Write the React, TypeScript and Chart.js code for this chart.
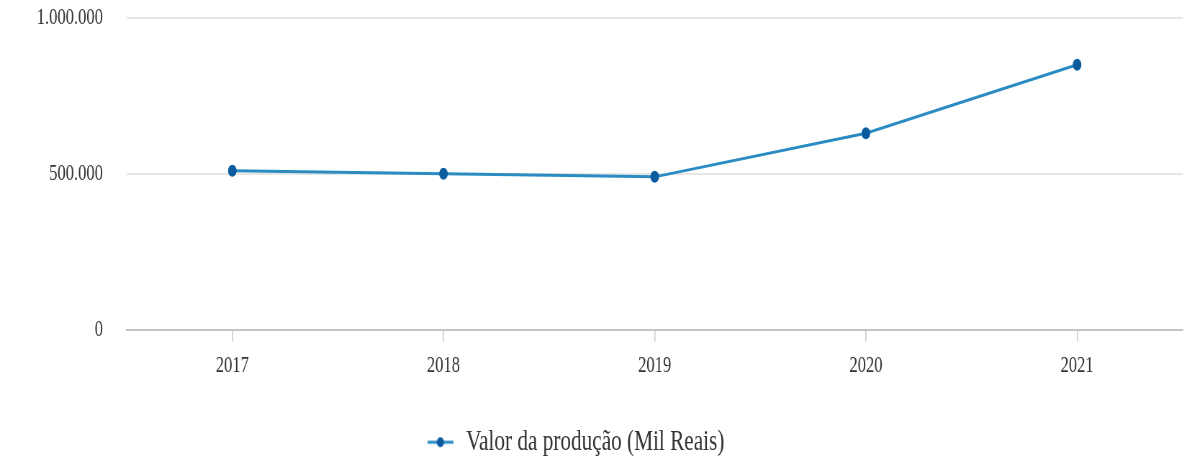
import React, { useEffect, useRef } from "react";
import { Chart, registerables } from "chart.js";

Chart.register(...registerables);

// ---- data ----
const categories: string[] = ["2017", "2018", "2019", "2020", "2021"];
const valorProducao: number[] = [510000, 500000, 490000, 630000, 850000];
const yTickValues: number[] = [0, 500000, 1000000];
const seriesLabel = "Valor da produção (Mil Reais)";

// ---- styles ----
const LINE_COLOR = "#2a8cc3";
const POINT_COLOR = "#0b5c9e";
const TEXT_COLOR = "#333333";
const FONT_FAMILY = "'Liberation Serif', 'Times New Roman', serif";

// drawing is done on a wider canvas that the browser squeezes horizontally
const INNER_W = 1649;
const INNER_H = 467;
const CANVAS_CSS_W = 1187;
const SHOWN_W = 1185;

function formatThousands(v: number): string {
  return String(Math.round(v)).replace(/\B(?=(\d{3})+(?!\d))/g, ".");
}

export default function App() {
  const ref = useRef<HTMLCanvasElement>(null);

  useEffect(() => {
    if (!ref.current) return;

    const marker = document.createElement("canvas");
    marker.width = 36;
    marker.height = 12;
    const mctx = marker.getContext("2d")!;
    mctx.strokeStyle = LINE_COLOR;
    mctx.lineWidth = 3;
    mctx.beginPath();
    mctx.moveTo(0, 6);
    mctx.lineTo(36, 6);
    mctx.stroke();
    mctx.fillStyle = POINT_COLOR;
    mctx.beginPath();
    mctx.arc(18, 6, 5, 0, Math.PI * 2);
    mctx.fill();

    const defaultGen = (Chart.defaults.plugins.legend.labels as any).generateLabels;

    const chart = new Chart(ref.current, {
      type: "line",
      data: {
        labels: categories,
        datasets: [
          {
            label: seriesLabel,
            data: valorProducao,
            borderColor: LINE_COLOR,
            backgroundColor: POINT_COLOR,
            pointBackgroundColor: POINT_COLOR,
            pointBorderColor: POINT_COLOR,
            pointBorderWidth: 0,
            pointRadius: 6,
            borderWidth: 3,
            tension: 0,
            fill: false,
          },
        ],
      },
      options: {
        animation: false,
        responsive: false,
        devicePixelRatio: 1,
        layout: { padding: { top: 18, left: 0, right: 0, bottom: 0 } },
        plugins: {
          tooltip: { enabled: false },
          legend: {
            position: "bottom",
            labels: {
              usePointStyle: true,
              pointStyleWidth: 42,
              padding: 10,
              color: TEXT_COLOR,
              font: { family: FONT_FAMILY, size: 29.5 },
              generateLabels: (c: any) =>
                defaultGen(c).map((it: any) => ({ ...it, pointStyle: marker })),
            },
          },
        },
        scales: {
          x: {
            offset: true,
            grid: {
              drawOnChartArea: false,
              drawTicks: true,
              tickLength: 12,
              color: "#c8c8c8",
              lineWidth: 1.5,
              offset: false,
            },
            border: { display: true, color: "#c4c4c4", width: 2 },
            ticks: {
              padding: 11,
              color: TEXT_COLOR,
              font: { family: FONT_FAMILY, size: 23 },
            },
            afterFit: (s: any) => {
              s.height = 88;
            },
          },
          y: {
            min: 0,
            max: 1000000,
            afterBuildTicks: (s: any) => {
              s.ticks = yTickValues.map((v) => ({ value: v }));
            },
            grid: {
              drawTicks: true,
              tickLength: 30,
              tickColor: "rgba(0,0,0,0)",
              lineWidth: 2,
              color: (ctx: any) => (ctx.tick && ctx.tick.value === 0 ? "#c4c4c4" : "#e6e6e6"),
            },
            border: { display: false },
            ticks: {
              padding: 3,
              color: TEXT_COLOR,
              font: { family: FONT_FAMILY, size: 23 },
              callback: (v: any) => formatThousands(Number(v)),
            },
            afterFit: (s: any) => {
              s.width = 176;
            },
          },
        },
      },
      plugins: [
        {
          id: "legendShift",
          afterLayout(c: any) {
            if (c.legend) c.legend.right -= 52;
          },
        },
      ],
    } as any);

    return () => chart.destroy();
  }, []);

  return (
    <div style={{ width: SHOWN_W, height: 461, overflow: "hidden", position: "relative", background: "#fff" }}>
      <style>{`body{margin:0;overflow:hidden;background:#fff}`}</style>
      <canvas
        ref={ref}
        width={INNER_W}
        height={INNER_H}
        style={{ width: `${CANVAS_CSS_W}px`, height: `${INNER_H}px`, display: "block" }}
      />
    </div>
  );
}
